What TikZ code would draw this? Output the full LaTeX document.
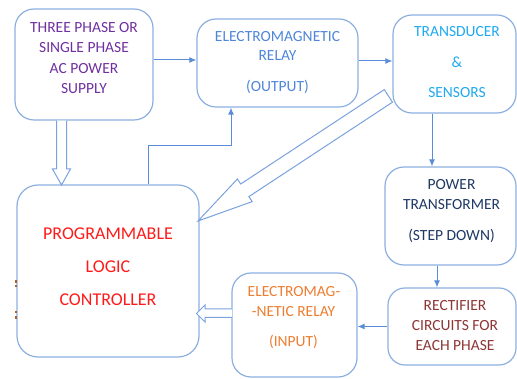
\documentclass[tikz,border=0pt]{standalone}
\usepackage{fontspec}
\setmainfont{Carlito}
\usetikzlibrary{arrows.meta,calc}

\definecolor{edgeblue}{HTML}{8CAFE0}
\definecolor{linkblue}{HTML}{5B8CD8}
\definecolor{hollowblue}{HTML}{7AA2DE}
\definecolor{supplytxt}{HTML}{7030A0}
\definecolor{relaytxt}{HTML}{4F86D9}
\definecolor{sensortxt}{HTML}{1FA9F0}
\definecolor{trafotxt}{HTML}{1F3864}
\definecolor{recttxt}{HTML}{8E3535}
\definecolor{inrelaytxt}{HTML}{ED7D31}
\definecolor{plctxt}{HTML}{FF1A1A}
\definecolor{speck}{HTML}{B0602A}

\begin{document}
\begin{tikzpicture}[x=1pt,y=-1pt,
  block/.style={draw=edgeblue, line width=1.2pt, rounded corners=19pt, inner sep=0pt},
  lbl/.style={inner sep=0pt, text height=10pt, text depth=0pt,
    font=\fontsize{15.5}{18}\selectfont},
  biglbl/.style={inner sep=0pt, text height=11.6pt, text depth=0pt,
    font=\fontsize{18}{22}\selectfont, text=plctxt},
  link/.style={draw=linkblue, line width=1pt, -{Latex[length=7pt,width=6pt]}},
  hollow/.style={draw=hollowblue, line width=1pt, fill=white, line join=miter}]

\useasboundingbox (0,0) rectangle (517,379);

% block outlines
\node[block, minimum width=138pt, minimum height=111pt] (ps)  at (84,64.5)   {};
\node[block, minimum width=161pt, minimum height=88pt]  (emo) at (277.5,63)  {};
\node[block, minimum width=123pt, minimum height=98pt]  (td)  at (454.5,64)  {};
\node[block, minimum width=131pt, minimum height=98pt]  (pt)  at (450.5,216)  {};
\node[block, minimum width=128pt, minimum height=77pt, rounded corners=17pt] (rc) at (452,326.5) {};
\node[block, minimum width=125pt, minimum height=104pt] (ei)  at (294.5,325) {};
\node[block, minimum width=182pt, minimum height=172pt, rounded corners=21pt] (plc) at (108,271) {};

% hollow block arrows
\draw[hollow] ($(ps.south)+(-27.5,0)$) -- (56.5,169) -- (52.5,169) -- (61.5,185)
  -- (70.5,169) -- (66.5,169) -- ($(ps.south)+(-17.5,0)$);
\draw[hollow] (232,309) -- (205,309) -- (205,305) -- (196.5,313.5)
  -- (205,322) -- (205,317.5) -- (232,317.5);
\draw[hollow] (384.3,89.6) -- (240.7,184.0) -- (237.4,179.0) -- (198,221)
  -- (252.2,201.6) -- (248.9,196.6) -- (392.5,102.2) -- cycle;

% thin connectors
\draw[link] ([yshift=4.5pt]ps.east) -- ([yshift=4.5pt]ps.east -| emo.west);
\draw[link] ([yshift=2pt]emo.east) -- ([yshift=2pt]emo.east -| td.west);
\coordinate (bend) at (148,146);
\draw[link] (bend |- plc.north) -- (bend) -| ([xshift=-46.5pt]emo.south);
\draw[link] ([xshift=-22.5pt]td.south) -- ([xshift=-22.5pt]td.south |- pt.north);
\draw[link] ([xshift=-13.5pt]pt.south) -- ([xshift=-13.5pt]pt.south |- rc.north);
\draw[link] (rc.west) -- (rc.west -| ei.east);

% labels
\node[lbl, text=supplytxt] (ps1) at (84,27.7) {THREE PHASE OR};
\node[lbl, text=supplytxt] (ps2) at (84,47.7) {SINGLE PHASE};
\node[lbl, text=supplytxt] (ps3) at (84,68.3) {AC POWER};
\node[lbl, text=supplytxt] (ps4) at (84,88.5) {SUPPLY};

\node[lbl, text=relaytxt] (emo1) at (277.5,36.7) {ELECTROMAGNETIC};
\node[lbl, text=relaytxt] (emo2) at (277.5,55.5) {RELAY};
\node[lbl, text=relaytxt] (emo3) at (277.5,87) {(OUTPUT)};

\node[lbl, text=sensortxt] (td1) at (457,32) {TRANSDUCER};
\node[lbl, text=sensortxt] (td2) at (457,62.5) {\&};
\node[lbl, text=sensortxt] (td3) at (457,93) {SENSORS};

\node[lbl, text=trafotxt] (pt1) at (451.5,184.5) {POWER};
\node[lbl, text=trafotxt] (pt2) at (451.5,205) {TRANSFORMER};
\node[lbl, text=trafotxt] (pt3) at (451.5,236) {(STEP DOWN)};

\node[lbl, text=recttxt] (rc1) at (455,305.7) {RECTIFIER};
\node[lbl, text=recttxt] (rc2) at (455,325.7) {CIRCUITS FOR};
\node[lbl, text=recttxt] (rc3) at (455,345.5) {EACH PHASE};

\node[lbl, text=inrelaytxt] (ei1) at (294,291.7) {ELECTROMAG-};
\node[lbl, text=inrelaytxt] (ei2) at (293.5,311.5) {-NETIC RELAY};
\node[lbl, text=inrelaytxt] (ei3) at (293.5,342) {(INPUT)};

\node[biglbl] (plc1) at (108,234) {PROGRAMMABLE};
\node[biglbl] (plc2) at (108,267) {LOGIC};
\node[biglbl] (plc3) at (108,300) {CONTROLLER};

% small specks on the controller's left edge
\fill[speck] (15,280) rectangle (16.8,282.8);
\fill[speck] (15,285) rectangle (16.8,287.5);
\fill[speck] (15,310.7) rectangle (16.8,313.3);
\fill[speck] (15,316) rectangle (16.8,318.7);
\end{tikzpicture}
\end{document}
